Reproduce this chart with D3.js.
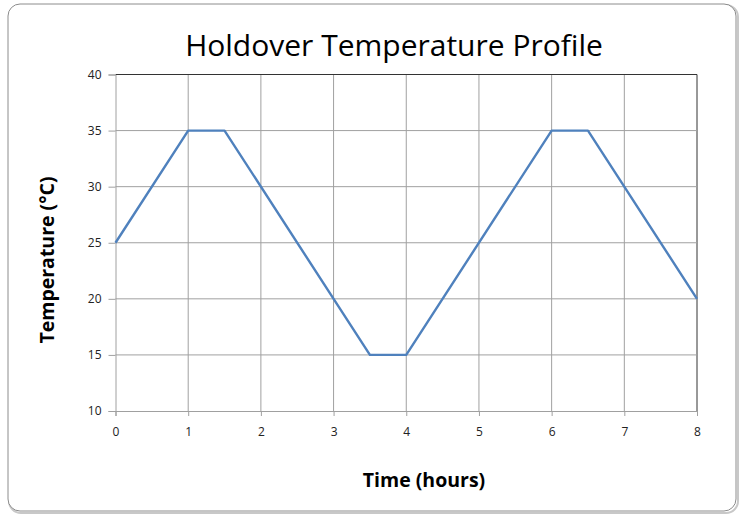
<!DOCTYPE html>
<html>
<head>
<meta charset="utf-8">
<script src="https://cdn.jsdelivr.net/npm/d3@7"></script>
<style>
  body { margin: 0; background: #fff; }
  text { font-family: "Open Sans", "Liberation Sans", sans-serif; }
</style>
</head>
<body>
<div id="chart"></div>
<script>
// data
const hours = [0, 1, 1.5, 3.5, 4, 6, 6.5, 8];
const temps = [25, 35, 35, 15, 15, 35, 35, 20];
const xTicks = [0, 1, 2, 3, 4, 5, 6, 7, 8];
const yTicks = [10, 15, 20, 25, 30, 35, 40];

const width = 742, height = 515;
const margin = {left: 115.5, right: 45, top: 74.5, bottom: 104};

const svg = d3.select("#chart").append("svg")
    .attr("width", width)
    .attr("height", height);

// outer frame
svg.append("rect")
    .attr("x", 9).attr("y", 5)
    .attr("width", 729).attr("height", 508)
    .attr("rx", 12)
    .attr("fill", "none")
    .attr("stroke", "#c8c8c8")
    .attr("stroke-width", 2);
svg.append("rect")
    .attr("x", 8).attr("y", 4)
    .attr("width", 728).attr("height", 507)
    .attr("rx", 12)
    .attr("fill", "#fff")
    .attr("stroke", "#8c8c8c")
    .attr("stroke-width", 1);

const x = d3.scaleLinear().domain([0, 8]).range([margin.left, width - margin.right]);
const y = d3.scaleLinear().domain([10, 40]).range([height - margin.bottom, margin.top]);

const g = svg.append("g");

// grid
g.selectAll(".vgrid").data(xTicks.slice(1)).join("line")
    .attr("x1", d => x(d)).attr("x2", d => x(d))
    .attr("y1", y(10)).attr("y2", y(40))
    .attr("stroke", d => d === 8 ? "#333" : "#a0a0a0");
g.selectAll(".hgrid").data(yTicks.slice(1)).join("line")
    .attr("x1", x(0)).attr("x2", x(8))
    .attr("y1", d => y(d)).attr("y2", d => y(d))
    .attr("stroke", d => d === 40 ? "#333" : "#a0a0a0");

// axes
const xAxis = d3.axisBottom(x).tickValues(xTicks).tickSize(5).tickPadding(11);
const yAxis = d3.axisLeft(y).tickValues(yTicks).tickSize(7).tickPadding(7);

const gx = svg.append("g").attr("transform", `translate(0,${y(10)})`).call(xAxis);
const gy = svg.append("g").attr("transform", `translate(${x(0)},0)`).call(yAxis);
[gx, gy].forEach(a => {
    a.select(".domain").attr("stroke", "#a0a0a0");
    a.selectAll(".tick line").attr("stroke", "#a0a0a0");
    a.selectAll(".tick text")
        .attr("fill", "#222")
        .style("font-size", "12px")
        .style("font-family", "'Open Sans', sans-serif");
});

// line
const line = d3.line().x((d, i) => x(hours[i])).y(d => y(d));
svg.append("path")
    .attr("d", line(temps))
    .attr("fill", "none")
    .attr("stroke", "#4f81bd")
    .attr("stroke-width", 2.4)
    .attr("stroke-linejoin", "round");

// titles
svg.append("text")
    .attr("x", 394).attr("y", 56)
    .attr("text-anchor", "middle")
    .style("font-size", "30px")
    .attr("fill", "#000")
    .text("Holdover Temperature Profile");

svg.append("text")
    .attr("x", 424).attr("y", 487)
    .attr("text-anchor", "middle")
    .style("font-size", "19.5px")
    .style("font-weight", "bold")
    .text("Time (hours)");

svg.append("text")
    .attr("transform", "translate(54,260) rotate(-90)")
    .attr("text-anchor", "middle")
    .style("font-size", "19.5px")
    .style("font-weight", "bold")
    .text("Temperature (°C)");
</script>
</body>
</html>
